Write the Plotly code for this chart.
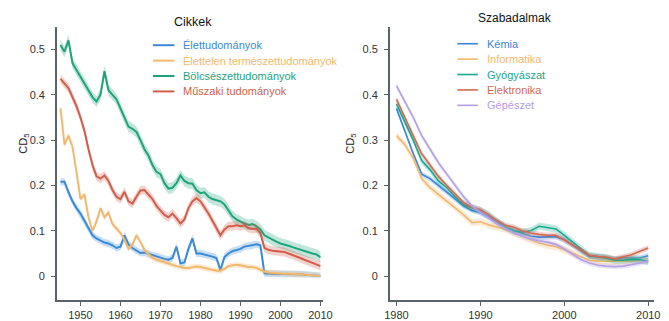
import plotly.graph_objects as go

# ---------------- data ----------------
years_left = list(range(1945, 2011))
years_right = list(range(1980, 2011))

names_left = ["Élettudományok", "Élettelen természettudományok", "Bölcsészettudományok", "Műszaki tudományok"]
colors_left = ["#3a8ad6", "#f3b86e", "#1fa37a", "#cf5f4c"]

elet = [0.208, 0.208, 0.185, 0.165, 0.150, 0.138, 0.122, 0.105, 0.090, 0.083,
        0.078, 0.074, 0.072, 0.068, 0.062, 0.065, 0.090, 0.070, 0.062, 0.057,
        0.051, 0.052, 0.049, 0.046, 0.044, 0.041, 0.038, 0.036, 0.040, 0.065,
        0.028, 0.030, 0.060, 0.083, 0.050, 0.050, 0.048, 0.046, 0.043, 0.040,
        0.013, 0.042, 0.050, 0.055, 0.057, 0.060, 0.065, 0.067, 0.068, 0.070,
        0.068, 0.006, 0.005, 0.005, 0.005, 0.005, 0.005, 0.004, 0.004, 0.004,
        0.004, 0.003, 0.002, 0.002, 0.001, 0.000]
elettelen = [0.370, 0.290, 0.310, 0.285, 0.230, 0.170, 0.180, 0.130, 0.100, 0.120,
             0.150, 0.130, 0.140, 0.115, 0.105, 0.095, 0.080, 0.060, 0.070, 0.090,
             0.075, 0.058, 0.048, 0.040, 0.036, 0.033, 0.030, 0.028, 0.025, 0.022,
             0.020, 0.018, 0.018, 0.020, 0.021, 0.020, 0.018, 0.016, 0.014, 0.012,
             0.012, 0.016, 0.022, 0.024, 0.025, 0.024, 0.022, 0.020, 0.020, 0.018,
             0.014, 0.010, 0.008, 0.007, 0.006, 0.006, 0.005, 0.005, 0.005, 0.004,
             0.004, 0.003, 0.003, 0.002, 0.001, 0.000]
bolcsesz = [0.510, 0.495, 0.520, 0.470, 0.455, 0.440, 0.425, 0.410, 0.395, 0.385,
            0.400, 0.452, 0.410, 0.400, 0.390, 0.370, 0.350, 0.330, 0.325, 0.318,
            0.300, 0.280, 0.266, 0.245, 0.230, 0.225, 0.205, 0.193, 0.195, 0.205,
            0.222, 0.210, 0.205, 0.204, 0.190, 0.183, 0.185, 0.175, 0.170, 0.168,
            0.165, 0.158, 0.145, 0.132, 0.125, 0.120, 0.116, 0.113, 0.115, 0.110,
            0.103, 0.090, 0.085, 0.080, 0.076, 0.072, 0.070, 0.067, 0.064, 0.061,
            0.058, 0.055, 0.052, 0.050, 0.048, 0.042]
muszaki = [0.435, 0.425, 0.415, 0.395, 0.375, 0.350, 0.320, 0.280, 0.245, 0.220,
           0.215, 0.222, 0.210, 0.190, 0.175, 0.170, 0.186, 0.165, 0.160, 0.175,
           0.189, 0.190, 0.180, 0.170, 0.155, 0.145, 0.135, 0.130, 0.138, 0.128,
           0.116, 0.125, 0.150, 0.165, 0.172, 0.165, 0.152, 0.138, 0.122, 0.105,
           0.090, 0.103, 0.110, 0.110, 0.112, 0.110, 0.112, 0.106, 0.104, 0.105,
           0.095, 0.062, 0.058, 0.056, 0.055, 0.054, 0.053, 0.050, 0.047, 0.044,
           0.040, 0.036, 0.033, 0.030, 0.026, 0.022]
ci_left = [0.008, 0.006, 0.012, 0.010]

names_right = ["Kémia", "Informatika", "Gyógyászat", "Elektronika", "Gépészet"]
colors_right = ["#3a86d8", "#f3b86e", "#1aa88e", "#d46a55", "#b3a0e6"]

kemia = [0.370, 0.320, 0.270, 0.225, 0.215, 0.200, 0.185, 0.170, 0.155, 0.145,
         0.140, 0.130, 0.120, 0.108, 0.100, 0.094, 0.088, 0.086, 0.086, 0.087,
         0.080, 0.068, 0.055, 0.044, 0.042, 0.040, 0.037, 0.040, 0.040, 0.040, 0.045]
informatika = [0.310, 0.290, 0.260, 0.215, 0.195, 0.180, 0.165, 0.152, 0.135, 0.118,
               0.120, 0.113, 0.108, 0.103, 0.095, 0.088, 0.080, 0.073, 0.068, 0.065,
               0.058, 0.050, 0.042, 0.035, 0.033, 0.033, 0.032, 0.032, 0.033, 0.034, 0.035]
gyogyaszat = [0.380, 0.340, 0.300, 0.255, 0.235, 0.210, 0.195, 0.175, 0.158, 0.150,
              0.145, 0.135, 0.120, 0.108, 0.100, 0.097, 0.100, 0.110, 0.107, 0.104,
              0.090, 0.075, 0.060, 0.045, 0.043, 0.040, 0.035, 0.035, 0.037, 0.036, 0.032]
elektronika = [0.390, 0.350, 0.310, 0.270, 0.245, 0.220, 0.200, 0.180, 0.162, 0.152,
               0.147, 0.135, 0.122, 0.112, 0.108, 0.100, 0.095, 0.092, 0.090, 0.090,
               0.080, 0.068, 0.057, 0.046, 0.043, 0.042, 0.038, 0.042, 0.047, 0.055, 0.062]
gepeszet = [0.420, 0.385, 0.350, 0.310, 0.280, 0.250, 0.225, 0.200, 0.175, 0.155,
            0.140, 0.128, 0.115, 0.105, 0.095, 0.088, 0.082, 0.078, 0.075, 0.070,
            0.060, 0.048, 0.036, 0.029, 0.024, 0.022, 0.021, 0.022, 0.025, 0.029, 0.033]
ci_right = [0.006, 0.008, 0.008, 0.006, 0.006]

y_ticks = [0, 0.1, 0.2, 0.3, 0.4, 0.5]
y_ticklabels = ["0", "0.1", "0.2", "0.3", "0.4", "0.5"]
x_ticks_left = [1950, 1960, 1970, 1980, 1990, 2000, 2010]
x_ticks_right = [1980, 1990, 2000, 2010]

series_left = [elet, elettelen, bolcsesz, muszaki]
series_right = [kemia, informatika, gyogyaszat, elektronika, gepeszet]


def rgba(hexc, a):
    h = hexc.lstrip("#")
    return "rgba(%d,%d,%d,%.2f)" % (int(h[0:2], 16), int(h[2:4], 16), int(h[4:6], 16), a)


fig = go.Figure()


def add_series(years, vals, color, name, ci, xa, ya, width):
    upper = [v + ci for v in vals]
    lower = [max(v - ci, -0.003) for v in vals]
    fig.add_trace(go.Scatter(x=years + years[::-1], y=upper + lower[::-1], fill="toself",
                             fillcolor=rgba(color, 0.28), line=dict(width=0), mode="lines",
                             hoverinfo="skip", showlegend=False, xaxis=xa, yaxis=ya))
    fig.add_trace(go.Scatter(x=years, y=vals, mode="lines", name=name,
                             line=dict(color=color, width=width), showlegend=False,
                             xaxis=xa, yaxis=ya))


for vals, c, n, ci in zip(series_left, colors_left, names_left, ci_left):
    add_series(years_left, vals, c, n, ci, "x", "y", 2.0)
for vals, c, n, ci in zip(series_right, colors_right, names_right, ci_right):
    add_series(years_right, vals, c, n, ci, "x2", "y2", 1.6)

W, H = 669, 321
axis_col = "#5a6468"
font_fam = "Liberation Sans, Arial, sans-serif"
tickfont = dict(family=font_fam, size=11, color="#333333")

common_y = dict(range=[-0.053, 0.55], tickvals=y_ticks, ticktext=y_ticklabels, showgrid=False,
                zeroline=False, showline=True, linecolor=axis_col, linewidth=1.5, ticks="outside",
                ticklen=4, tickcolor=axis_col, tickwidth=1.2, tickfont=tickfont, ticklabelstandoff=4)
common_x = dict(showgrid=False, zeroline=False, showline=True, linecolor=axis_col, linewidth=1.5,
                ticks="outside", ticklen=4, tickcolor=axis_col, tickwidth=1.2, tickfont=tickfont)

ydom = [(H - 302) / H, (H - 27) / H]
fig.update_layout(
    width=W, height=H, margin=dict(l=0, r=0, t=0, b=0),
    paper_bgcolor="white", plot_bgcolor="white", showlegend=False,
    xaxis=dict(domain=[53 / W, 325 / W], range=[1944.1, 2010.7], tickvals=x_ticks_left, **common_x),
    yaxis=dict(domain=ydom, anchor="x", **common_y),
    xaxis2=dict(domain=[393 / W, 663 / W], range=[1979.2, 2010.7], tickvals=x_ticks_right,
                anchor="y2", **common_x),
    yaxis2=dict(domain=ydom, anchor="x2", **common_y),
)

ann = []
shapes = []
# titles
ann.append(dict(text="Cikkek", x=192 / W, y=1 - 22 / H, xref="paper", yref="paper", showarrow=False,
                font=dict(family=font_fam, size=12.5, color="#111111"), xanchor="center", yanchor="middle"))
ann.append(dict(text="Szabadalmak", x=521 / W, y=1 - 18 / H, xref="paper", yref="paper", showarrow=False,
                font=dict(family=font_fam, size=12, color="#111111"), xanchor="center", yanchor="middle"))
# y titles
for xp in (19, 353):
    ann.append(dict(text="CD<sub>5</sub>", x=xp / W, y=1 - 145 / H, xref="paper", yref="paper",
                    showarrow=False, textangle=-90, font=dict(family=font_fam, size=11, color="#222222"),
                    xanchor="center", yanchor="middle"))


# legends (manual)
def legend(names, colors, x0, x1, xt, y0, dy, lw):
    for i, (n, c) in enumerate(zip(names, colors)):
        yy = 1 - (y0 + i * dy) / H
        shapes.append(dict(type="line", xref="paper", yref="paper", x0=x0 / W, x1=x1 / W, y0=yy, y1=yy,
                           line=dict(color=c, width=lw)))
        ann.append(dict(text=n, x=xt / W, y=yy, xref="paper", yref="paper", showarrow=False,
                        xanchor="left", yanchor="middle", font=dict(family=font_fam, size=11, color=c)))


legend(names_left, colors_left, 151, 173, 180, 45.5, 15.5, 2.0)
legend(names_right, colors_right, 462, 483, 490, 44, 15.5, 1.6)

fig.update_layout(annotations=ann, shapes=shapes)
fig.write_html("out.html")
